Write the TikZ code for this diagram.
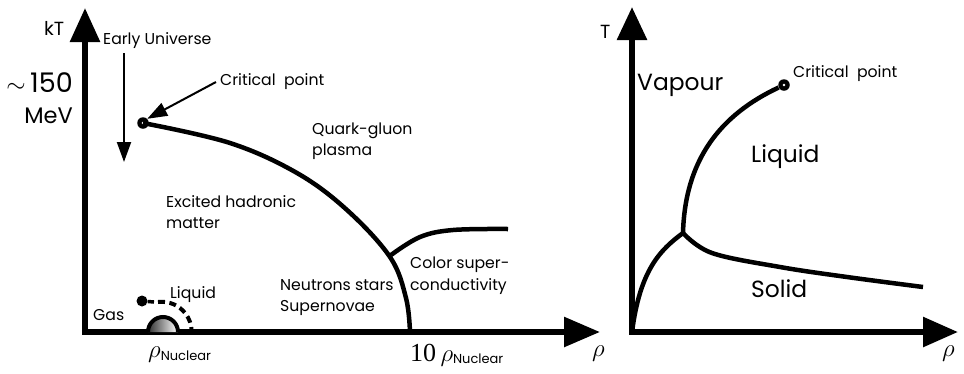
\documentclass[tikz,border=0pt]{standalone}
\usepackage{fontspec}
\setmainfont{Poppins}
\newfontfamily\serifnum{Liberation Serif}
\usetikzlibrary{arrows.meta}
\begin{document}
\begin{tikzpicture}[x=1pt,y=-1pt,
  axis/.style={line width=5.8pt, line join=miter},
  bound/.style={line width=4.5pt},
  thinarrow/.style={line width=2pt,-{Triangle[length=20pt,width=14pt]}},
  lbl/.style={anchor=base west, inner sep=0pt, font=\fontsize{15.7}{18}\selectfont},
  big/.style={anchor=base west, inner sep=0pt, font=\fontsize{23.4}{28}\selectfont},
  cdot/.style={circle, fill=black, minimum size=11.5pt, inner sep=0pt},
  ]
\useasboundingbox (0,0) rectangle (964,373);
% ---------- left panel axes
\coordinate (oL) at (85,332);
\coordinate (yL) at (85,8);
\coordinate (xL) at (600,332);
\draw[axis,{Triangle[length=34pt,width=29pt]}-{Triangle[length=36pt,width=29pt]}] (yL) -- (oL) -- (xL);
% ---------- right panel axes
\coordinate (oR) at (632,332);
\coordinate (yR) at (632,7);
\coordinate (xR) at (958,332);
\draw[axis,{Triangle[length=33pt,width=29pt]}-{Triangle[length=35pt,width=29pt]}] (yR) -- (oR) -- (xR);

% ---------- left panel boundaries
\node[cdot] (cpL) at (143,123) {};
\fill[white] (cpL) circle (1.3pt);
\coordinate (tenL) at (410,332);
\draw[bound] plot[smooth, tension=0.6] coordinates {(cpL) (230,143) (297,173) (347,210) (390,257) (406,298) (tenL)};
\coordinate (csA) at (391,255);
\coordinate (csB) at (508,229);
\draw[bound] plot[smooth, tension=0.6] coordinates {(csA) (420,237) (453,230) (csB)};

% nuclear liquid-gas
\node[cdot, minimum size=11pt] (lgdot) at (142,301) {};
\coordinate (lgA) at (154,302);
\draw[line width=3.5pt] (lgdot) -- (lgA);
\draw[line width=4pt, dash pattern=on 7pt off 4.5pt] (158,302) arc (-97:-2:30);
\shade[left color=black!80, right color=white] (148,332) arc (180:360:15) -- cycle;
\draw[line width=4pt] (148,332) arc (180:360:15);

% arrows
\coordinate (euA) at (124,53);
\coordinate (euB) at (124,162);
\draw[thinarrow] (euA) -- (euB);
\coordinate (cpArrow) at (216,82);
\draw[thinarrow] (cpArrow) -- (cpL.north east);

% left labels
\node[anchor=base west, inner sep=0pt, font=\fontsize{19}{20}\selectfont] (kT) at (44,35) {kT};
\node[anchor=base east, inner sep=0pt, font=\fontsize{27}{30}\selectfont] (e150) at (73,92) {$\sim$\,150};
\node[anchor=base east, inner sep=0pt, font=\fontsize{22.5}{30}\selectfont] (MeV) at (73,123) {MeV};
\node[lbl] (eu) at (103,44) {Early Universe};
\node[lbl] (cpt) at (220,85) {Critical\ \ point};
\node[lbl] (qgp1) at (312,134) {Quark-gluon};
\node[lbl] (qgp2) at (312,155) {plasma};
\node[lbl] (ehm1) at (166,207) {Excited hadronic};
\node[lbl] (ehm2) at (166,228) {matter};
\node[lbl] (ns1) at (280,290) {Neutrons stars};
\node[lbl] (ns2) at (280,311) {Supernovae};
\node[lbl] (cs1) at (410,268) {Color super-};
\node[lbl] (cs2) at (410,290) {conductivity};
\node[lbl] (gas) at (93,320) {Gas};
\node[lbl] (liqL) at (170,298) {Liquid};
\node[anchor=base west, inner sep=0pt, font=\fontsize{27}{30}\selectfont] (rhoN) at (148,357) {$\rho$\raisebox{-3pt}{\fontsize{13}{14}\selectfont Nuclear}};
\node[anchor=base west, inner sep=0pt, font=\fontsize{26}{30}\selectfont] (rho10) at (410,361) {\serifnum 10\,$\rho$\raisebox{-2pt}{\fontsize{13}{14}\selectfont\rmfamily Nuclear}};
\node[anchor=base west, inner sep=0pt, font=\fontsize{26}{30}\selectfont] (rhoxL) at (592,356) {$\rho$};

% ---------- right panel
\node[cdot] (cpR) at (784,85) {};
\fill[white] (cpR) circle (1.3pt);
\coordinate (tp) at (683,233);
\coordinate (meltEnd) at (923,287);
\draw[bound] (tp) .. controls (685,160) and (720,115) .. (cpR);
\draw[bound] (oR) .. controls (640,270) and (660,250) .. (tp);
\draw[bound] plot[smooth, tension=0.6] coordinates {(tp) (712,253) (780,267) (847,277) (meltEnd)};

\node[anchor=base west, inner sep=0pt, font=\fontsize{19}{20}\selectfont] (T) at (600,38) {T};
\node[big] (vap) at (637,90) {Vapour};
\node[lbl] (cpRt) at (793,77) {Critical\ \ point};
\node[big] (liqR) at (751,162) {Liquid};
\node[big] (sol) at (751,297) {Solid};
\node[anchor=base west, inner sep=0pt, font=\fontsize{26}{30}\selectfont] (rhoxR) at (942,356) {$\rho$};
\end{tikzpicture}
\end{document}
